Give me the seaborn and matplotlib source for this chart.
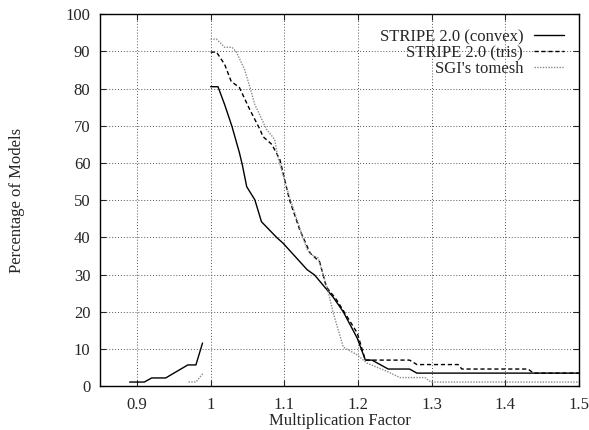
import matplotlib
matplotlib.use("Agg")
import matplotlib.pyplot as plt
import seaborn as sns
import pandas as pd
from matplotlib.lines import Line2D

# ---- data ----
convex_low_x = [0.890, 0.910, 0.920, 0.939, 0.969, 0.980, 0.989]
convex_low_y = [1.1, 1.1, 2.2, 2.2, 5.7, 5.7, 11.6]
convex_x = [1.0, 1.01, 1.019, 1.029, 1.039, 1.043, 1.049, 1.06, 1.069, 1.09, 1.098,
            1.131, 1.141, 1.166, 1.18, 1.199, 1.21, 1.219, 1.241, 1.27, 1.28, 1.5]
convex_y = [80.5, 80.5, 75.7, 69.8, 62.8, 59.5, 53.6, 50.1, 44.2, 39.9, 38.5,
            31.3, 29.9, 24.0, 20.0, 12.9, 7.0, 7.0, 4.6, 4.6, 3.5, 3.5]

tris_x = [1.0, 1.008, 1.019, 1.028, 1.039, 1.053, 1.067, 1.071, 1.083, 1.094, 1.107,
          1.121, 1.135, 1.148, 1.157, 1.171, 1.199, 1.21, 1.27, 1.28, 1.336, 1.341,
          1.431, 1.438, 1.5]
tris_y = [89.8, 89.8, 86.5, 81.9, 80.3, 74.4, 69.0, 67.1, 65.0, 60.9, 50.1,
          42.0, 35.8, 33.4, 26.7, 23.2, 14.3, 7.0, 7.0, 5.8, 5.8, 4.6,
          4.6, 3.5, 3.5]

sgi_low_x = [0.970, 0.980, 0.990]
sgi_low_y = [1.1, 1.1, 3.5]
sgi_x = [1.0, 1.008, 1.019, 1.029, 1.035, 1.046, 1.053, 1.06, 1.076, 1.087, 1.091,
         1.107, 1.124, 1.131, 1.137, 1.146, 1.159, 1.166, 1.18, 1.199, 1.212, 1.239,
         1.257, 1.291, 1.299, 1.5]
sgi_y = [93.3, 93.3, 91.1, 91.1, 89.8, 85.2, 80.6, 75.7, 69.0, 66.3, 61.7,
         50.9, 40.7, 36.7, 35.3, 34.5, 25.9, 20.0, 10.5, 8.4, 6.2, 4.0,
         2.3, 2.3, 1.1, 1.1]

labels = ["STRIPE 2.0 (convex)", "STRIPE 2.0 (tris)", "SGI's tomesh"]
x_ticks = [0.9, 1.0, 1.1, 1.2, 1.3, 1.4, 1.5]
x_tick_labels = ["0.9", "1", "1.1", "1.2", "1.3", "1.4", "1.5"]
y_ticks = [0, 10, 20, 30, 40, 50, 60, 70, 80, 90, 100]

sns.set_style("ticks")
plt.rcParams["font.family"] = ["Liberation Serif", "DejaVu Serif"]
FS = 12
plt.rcParams["font.size"] = FS

fig = plt.figure(figsize=(5.89, 4.30), dpi=100)
ax = fig.add_axes([0.170, 0.102, 0.813, 0.865])

styles = {
    labels[0]: dict(color="black", linestyle="-", linewidth=1.0),
    labels[1]: dict(color="black", linestyle=(0, (3, 2)), linewidth=1.0),
    labels[2]: dict(color="#8a8a8a", linestyle=(0, (1, 1)), linewidth=1.0),
}

segments = [
    (labels[0], convex_low_x, convex_low_y),
    (labels[0], convex_x, convex_y),
    (labels[1], tris_x, tris_y),
    (labels[2], sgi_low_x, sgi_low_y),
    (labels[2], sgi_x, sgi_y),
]
for name, xs, ys in segments:
    df = pd.DataFrame({"x": xs, "y": ys})
    sns.lineplot(data=df, x="x", y="y", ax=ax, estimator=None, sort=False,
                 legend=False, **styles[name])

ax.set_xlim(0.85, 1.5)
ax.set_ylim(0, 100)
ax.set_xticks(x_ticks)
ax.set_xticklabels(x_tick_labels)
ax.set_yticks(y_ticks)
ax.grid(True, linestyle=(0, (1, 2)), color="#555555", linewidth=0.7)
ax.tick_params(direction="in", length=4, width=0.8, top=True, right=True,
               labelsize=FS)
ax.tick_params(axis="x", pad=8)
ax.tick_params(axis="y", pad=7)
for s in ax.spines.values():
    s.set_linewidth(1.0)
    s.set_color("black")

ax.set_xlabel("Multiplication Factor", fontsize=FS, labelpad=0)
ax.set_ylabel("Percentage of Models", fontsize=FS, labelpad=29)

handles = [Line2D([0], [0], **styles[n]) for n in labels]
ax.legend(handles, labels, loc="upper right", frameon=False, markerfirst=False,
          handlelength=1.8, handletextpad=0.65, labelspacing=0.0,
          fontsize=FS, borderaxespad=0.5, borderpad=0.4)

fig.savefig("out.png", dpi=100)
